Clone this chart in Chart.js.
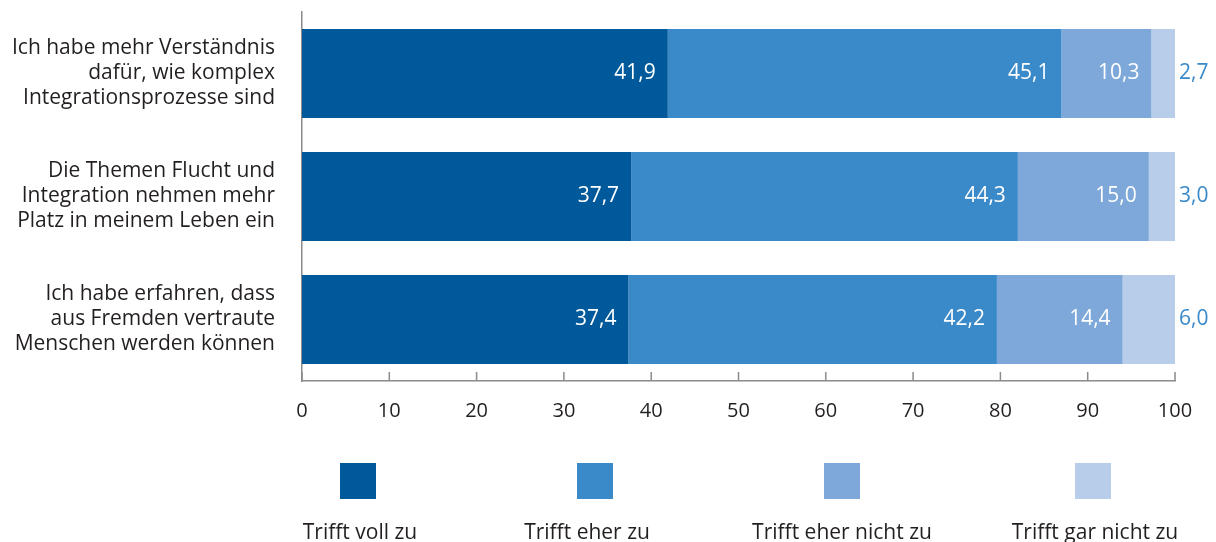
<!DOCTYPE html>
<html lang="de">
<head>
<meta charset="utf-8">
<title>Integration</title>
<script src="https://cdn.jsdelivr.net/npm/chart.js@4.4.1/dist/chart.umd.min.js"></script>
<style>
  html, body { margin: 0; padding: 0; background: #fff; }
  #wrap { width: 1216px; height: 542px; }
</style>
</head>
<body>
<div id="wrap"><canvas id="grafico" width="1216" height="542"></canvas></div>
<script>
// Aussagen (mehrzeilig) und Antwortkategorien
const aussagen = [
  ['Ich habe mehr Verständnis', 'dafür, wie komplex', 'Integrationsprozesse sind'],
  ['Die Themen Flucht und', 'Integration nehmen mehr', 'Platz in meinem Leben ein'],
  ['Ich habe erfahren, dass', 'aus Fremden vertraute', 'Menschen werden können']
];
const antworten = ['Trifft voll zu', 'Trifft eher zu', 'Trifft eher nicht zu', 'Trifft gar nicht zu'];

// Anteile in Prozent
const vollZu = [41.9, 37.7, 37.4];
const eherZu = [45.1, 44.3, 42.2];
const eherNicht = [10.3, 15.0, 14.4];
const garNicht = [2.7, 3.0, 6.0];

const farben = ['#00599a', '#3a89c9', '#7ea8d9', '#b8cde9'];
const schrift = '"Open Sans", "Noto Sans", sans-serif';
const textFarbe = '#231f20';
const achsenFarbe = '#8a8a8a';

const fmt = v => v.toFixed(1).replace('.', ',');

// Werte in / neben den Balken
const werteLabels = {
  id: 'werteLabels',
  afterDatasetsDraw(chart) {
    const ctx = chart.ctx;
    ctx.save();
    ctx.font = '21px ' + schrift;
    ctx.textBaseline = 'middle';
    chart.data.datasets.forEach((ds, i) => {
      const meta = chart.getDatasetMeta(i);
      const letzte = i === chart.data.datasets.length - 1;
      meta.data.forEach((el, j) => {
        const txt = fmt(ds.data[j]);
        if (letzte) {
          ctx.fillStyle = farben[1];
          ctx.textAlign = 'left';
          ctx.fillText(txt, el.x + 4, el.y);
        } else {
          ctx.fillStyle = '#ffffff';
          ctx.textAlign = 'right';
          ctx.fillText(txt, el.x - 12, el.y);
        }
      });
    });
    ctx.restore();
  }
};

// kleine Teilstriche nach oben an der x-Achse
const achsenStriche = {
  id: 'achsenStriche',
  afterDraw(chart) {
    const ctx = chart.ctx;
    const x = chart.scales.x;
    const unten = chart.chartArea.bottom;
    ctx.save();
    ctx.strokeStyle = achsenFarbe;
    ctx.lineWidth = 1.5;
    x.ticks.forEach(t => {
      const px = x.getPixelForValue(t.value);
      ctx.beginPath();
      ctx.moveTo(px, unten);
      ctx.lineTo(px, unten - 9);
      ctx.stroke();
    });
    ctx.restore();
  }
};

// Legende: Quadrat oben, Text darunter
const legende = {
  id: 'legende',
  afterDraw(chart) {
    const ctx = chart.ctx;
    const quadratMitte = [358, 595, 842, 1093];
    const textMitte = [360, 587, 842, 1095];
    const groesse = 36, oben = 463;
    ctx.save();
    ctx.font = '21px ' + schrift;
    ctx.textAlign = 'center';
    ctx.textBaseline = 'alphabetic';
    chart.data.datasets.forEach((ds, i) => {
      ctx.fillStyle = ds.backgroundColor;
      ctx.fillRect(quadratMitte[i] - groesse / 2, oben, groesse, groesse);
      ctx.fillStyle = textFarbe;
      ctx.fillText(ds.label, textMitte[i], 539);
    });
    ctx.restore();
  }
};

const reihen = [vollZu, eherZu, eherNicht, garNicht];

new Chart(document.getElementById('grafico'), {
  type: 'bar',
  data: {
    labels: aussagen,
    datasets: reihen.map((werte, i) => ({
      label: antworten[i],
      data: werte,
      backgroundColor: farben[i],
      borderWidth: 0,
      barPercentage: 0.724,
      categoryPercentage: 1
    }))
  },
  options: {
    indexAxis: 'y',
    responsive: false,
    devicePixelRatio: 1,
    animation: false,
    layout: { padding: { top: 12, right: 41, left: 0, bottom: 0 } },
    plugins: {
      legend: { display: false },
      tooltip: { enabled: false }
    },
    scales: {
      x: {
        stacked: true,
        min: 0,
        max: 100,
        grid: { display: false, drawTicks: false },
        border: { display: true, color: achsenFarbe, width: 1.5 },
        ticks: { stepSize: 10, color: textFarbe, font: { family: schrift, size: 20 }, padding: 18, maxRotation: 0 },
        afterFit: s => { s.height = 161; s.paddingLeft = 0; s.paddingRight = 0; }
      },
      y: {
        stacked: true,
        grid: { display: false, drawTicks: false },
        border: { display: true, color: achsenFarbe, width: 1.5 },
        ticks: { color: textFarbe, font: { family: schrift, size: 21, lineHeight: 1.19 }, padding: 27 },
        afterFit: s => { s.width = 302; s.paddingTop = 0; s.paddingBottom = 0; }
      }
    }
  },
  plugins: [werteLabels, achsenStriche, legende]
});
</script>
</body>
</html>
